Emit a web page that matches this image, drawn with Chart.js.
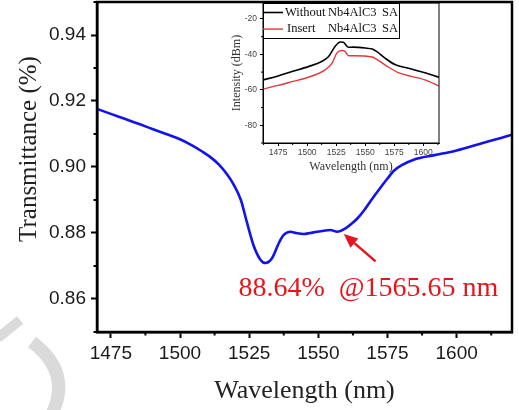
<!DOCTYPE html>
<html>
<head>
<meta charset="utf-8">
<script src="https://cdn.jsdelivr.net/npm/chart.js@4.4.1/dist/chart.umd.min.js"></script>
<style>
  body { margin: 0; background: #fff; }
  #wrap { position: relative; width: 519px; height: 410px; }
  #mainChart { position: absolute; left: 0; top: 0; }
  #insetChart { position: absolute; left: 225px; top: 0; }
</style>
</head>
<body>
<div id="wrap">
  <canvas id="mainChart" width="519" height="410"></canvas>
  <canvas id="insetChart" width="225" height="178"></canvas>
</div>
<script>
// main curve: transmittance vs wavelength
var wavelength = [1470, 1475, 1480, 1485, 1490, 1495, 1500, 1504, 1508, 1511, 1514, 1517, 1519.5, 1522,
  1524.2, 1526.6, 1529, 1530.9, 1533.3, 1535.7, 1537.5, 1539.9, 1542, 1544.7, 1547, 1549.6, 1552,
  1554.4, 1556.8, 1559.8, 1562, 1564.1, 1566.5, 1568.9, 1572.5, 1575, 1577.2, 1580, 1584.5, 1592,
  1599, 1606.3, 1611.3, 1616, 1620];
var transmittance = [0.9176, 0.9161, 0.9146, 0.9131, 0.9115, 0.9100, 0.9084, 0.9067, 0.9047, 0.9030,
  0.9008, 0.8978, 0.8945, 0.8900, 0.8832, 0.8762, 0.8720, 0.8709, 0.8724, 0.8769, 0.8794, 0.8804,
  0.8800, 0.8797, 0.8800, 0.8804, 0.8807, 0.8809, 0.8804, 0.8814, 0.8828, 0.8844, 0.8868, 0.8897,
  0.8938, 0.8965, 0.8988, 0.9005, 0.9022, 0.9036, 0.9048, 0.9065, 0.9077, 0.9088, 0.9098];
var xTicks = [1475, 1500, 1525, 1550, 1575, 1600];
var yTicks = [0.86, 0.88, 0.90, 0.92, 0.94];

// inset spectra
var wlWithout = [1462, 1475, 1487, 1501, 1512.5, 1518.5, 1524, 1528.5, 1531, 1535.5, 1540, 1550,
  1556, 1560, 1567, 1576, 1587, 1601.5, 1613.5];
var dBmWithout = [-54.4, -52.2, -49.7, -46.9, -44.0, -41.2, -35.5, -33.0, -33.1, -36.0, -35.9, -36.4,
  -37.0, -38.4, -42.1, -45.9, -47.8, -50.3, -52.9];
var wlInsert = [1462, 1475, 1487, 1501, 1515.5, 1521.5, 1525.5, 1530, 1532, 1536, 1540, 1556,
  1560, 1567, 1578.5, 1601.5, 1613.5];
var dBmInsert = [-59.6, -57.5, -55.4, -52.9, -48.7, -44.9, -39.3, -37.8, -38.0, -40.8, -40.8, -41.5,
  -42.8, -45.9, -50.3, -54.4, -57.8];
var insetXTicks = [1475, 1500, 1525, 1550, 1575, 1600];
var insetYTicks = [-80, -60, -40, -20];
var seriesNames = ['Without  Nb4AlC3  SA', 'Insert  Nb4AlC3  SA'];

// annotation
var noteText = '88.64%  @1565.65 nm';
var noteAt = [1521.1, 0.8608];
var arrowFrom = [1570.7, 0.8714];
var arrowTo = [1559.2, 0.8797];

var SERIF = '"Liberation Serif", "Times New Roman", serif';
var SANS = '"Liberation Sans", Arial, sans-serif';

function toPoints(xs, ys) {
  return xs.map(function (x, i) { return {x: x, y: ys[i]}; });
}
function plain(v) { return String(v); }
function noPad(s) { s.paddingLeft = 0; s.paddingRight = 0; s.paddingTop = 0; s.paddingBottom = 0; }

// box around plot area
var framePlugin = {
  id: 'frame',
  afterDraw: function (chart, args, opts) {
    var a = chart.chartArea, ctx = chart.ctx;
    ctx.save();
    ctx.strokeStyle = '#000';
    ctx.lineWidth = opts.width;
    ctx.strokeRect(a.left, a.top, a.right - a.left, a.bottom - a.top);
    ctx.restore();
  }
};

// small ticks halfway between the labelled ones
var minorTickPlugin = {
  id: 'minorTicks',
  afterDraw: function (chart, args, opts) {
    var ctx = chart.ctx;
    ctx.save();
    ctx.strokeStyle = '#000';
    ctx.lineWidth = opts.width;
    ['x', 'y'].forEach(function (id) {
      var s = chart.scales[id];
      var vals = s.ticks.map(function (t) { return t.value; });
      var step = vals[1] - vals[0];
      var mids = [vals[0] - step / 2];
      vals.forEach(function (v) { mids.push(v + step / 2); });
      mids.forEach(function (m) {
        if (m < s.min - 1e-9 || m > s.max + 1e-9) return;
        var p = s.getPixelForValue(m);
        ctx.beginPath();
        if (id === 'x') { ctx.moveTo(p, s.top); ctx.lineTo(p, s.top + opts.len); }
        else { ctx.moveTo(s.right, p); ctx.lineTo(s.right - opts.len, p); }
        ctx.stroke();
      });
    });
    ctx.restore();
  }
};

var mainExtras = {
  id: 'mainExtras',
  beforeDraw: function (chart) {
    // faint watermark strokes bottom-left
    var ctx = chart.ctx;
    ctx.save();
    ctx.strokeStyle = '#dadada';
    ctx.lineCap = 'butt';
    ctx.lineWidth = 10;
    ctx.beginPath(); ctx.moveTo(-2, 338); ctx.lineTo(20, 320); ctx.stroke();
    ctx.lineWidth = 13;
    ctx.beginPath(); ctx.moveTo(32, 342); ctx.quadraticCurveTo(72, 372, 52, 414); ctx.stroke();
    ctx.restore();
  },
  afterDraw: function (chart) {
    var ctx = chart.ctx, x = chart.scales.x, y = chart.scales.y;
    ctx.save();
    // y axis title
    ctx.fillStyle = '#222';
    ctx.font = '25px ' + SERIF;
    ctx.textAlign = 'center';
    ctx.textBaseline = 'middle';
    ctx.translate(29, 149);
    ctx.rotate(-Math.PI / 2);
    ctx.fillText('Transmittance (%)', 0, 0);
    ctx.restore();

    ctx.save();
    ctx.fillStyle = '#e8141c';
    ctx.strokeStyle = '#e8141c';
    ctx.font = '28px ' + SERIF;
    ctx.textAlign = 'left';
    ctx.textBaseline = 'alphabetic';
    ctx.fillText(noteText, x.getPixelForValue(noteAt[0]), y.getPixelForValue(noteAt[1]));
    var x0 = x.getPixelForValue(arrowFrom[0]), y0 = y.getPixelForValue(arrowFrom[1]);
    var x1 = x.getPixelForValue(arrowTo[0]), y1 = y.getPixelForValue(arrowTo[1]);
    var ang = Math.atan2(y1 - y0, x1 - x0), head = 14, half = 6;
    var bx = x1 - head * Math.cos(ang), by = y1 - head * Math.sin(ang);
    ctx.lineWidth = 2.5;
    ctx.beginPath(); ctx.moveTo(x0, y0); ctx.lineTo(bx, by); ctx.stroke();
    ctx.beginPath();
    ctx.moveTo(x1, y1);
    ctx.lineTo(bx + half * Math.sin(ang), by - half * Math.cos(ang));
    ctx.lineTo(bx - half * Math.sin(ang), by + half * Math.cos(ang));
    ctx.closePath();
    ctx.fill();
    ctx.restore();
  }
};

var insetLegend = {
  id: 'insetLegend',
  afterDraw: function (chart) {
    var ctx = chart.ctx, a = chart.chartArea;
    var L = a.left, T = a.top, W = 136, H = 35;
    var cols = [L + 22, L + 65, L + 119];
    ctx.save();
    ctx.fillStyle = '#fff';
    ctx.fillRect(L, T, W, H);
    ctx.strokeStyle = '#000';
    ctx.lineWidth = 1;
    ctx.strokeRect(L + 0.5, T + 0.5, W, H);
    ctx.font = '12.5px ' + SERIF;
    ctx.textBaseline = 'middle';
    chart.data.datasets.forEach(function (ds, i) {
      var ry = T + 9.5 + i * 16.6;
      ctx.strokeStyle = ds.borderColor;
      ctx.lineWidth = ds.borderWidth;
      ctx.beginPath(); ctx.moveTo(L, ry); ctx.lineTo(L + 20, ry); ctx.stroke();
      ctx.fillStyle = '#111';
      ds.label.split(/\s+/).forEach(function (w, j) {
        ctx.fillText(w, cols[j] + (j === 0 && i === 1 ? 2 : 0), ry);
      });
    });
    ctx.restore();
  }
};

new Chart(document.getElementById('mainChart').getContext('2d'), {
  type: 'line',
  data: {
    datasets: [{
      label: 'Transmittance',
      data: toPoints(wavelength, transmittance),
      borderColor: '#1212ec',
      borderWidth: 2.6,
      pointRadius: 0,
      cubicInterpolationMode: 'monotone',
      fill: false
    }]
  },
  options: {
    responsive: false,
    animation: false,
    layout: { padding: { top: 2, right: 7, left: 0, bottom: 0 } },
    plugins: {
      legend: { display: false },
      tooltip: { enabled: false },
      frame: { width: 2.5 },
      minorTicks: { len: 3.5, width: 2 }
    },
    scales: {
      x: {
        type: 'linear', min: 1470, max: 1620,
        afterBuildTicks: function (s) { s.ticks = xTicks.map(function (v) { return {value: v}; }); },
        afterFit: function (s) { s.height = 78; noPad(s); },
        ticks: { font: { family: SANS, size: 19 }, color: '#1a1a1a', padding: 4, maxRotation: 0, callback: plain },
        grid: { drawOnChartArea: false, tickLength: 6, tickWidth: 2, tickColor: '#000' },
        border: { color: '#000', width: 2.5 },
        title: { display: true, text: 'Wavelength (nm)', font: { family: SERIF, size: 26 }, color: '#222', padding: { top: 0, bottom: 3 } }
      },
      y: {
        type: 'linear', min: 0.85, max: 0.95,
        afterBuildTicks: function (s) { s.ticks = yTicks.map(function (v) { return {value: v}; }); },
        afterFit: function (s) { s.width = 97; noPad(s); },
        ticks: { font: { family: SANS, size: 19 }, color: '#1a1a1a', padding: 5,
          callback: function (v) { return v.toFixed(2); } },
        grid: { drawOnChartArea: false, tickLength: 6, tickWidth: 2, tickColor: '#000' },
        border: { color: '#000', width: 2.5 }
      }
    }
  },
  plugins: [mainExtras, framePlugin, minorTickPlugin]
});

new Chart(document.getElementById('insetChart').getContext('2d'), {
  type: 'line',
  data: {
    datasets: [{
      label: seriesNames[0],
      data: toPoints(wlWithout, dBmWithout),
      borderColor: '#000',
      borderWidth: 1.6,
      pointRadius: 0,
      cubicInterpolationMode: 'monotone'
    }, {
      label: seriesNames[1],
      data: toPoints(wlInsert, dBmInsert),
      borderColor: '#e0383c',
      borderWidth: 1.4,
      pointRadius: 0,
      cubicInterpolationMode: 'monotone'
    }]
  },
  options: {
    responsive: false,
    animation: false,
    layout: { padding: { top: 3, right: 11, left: 0, bottom: 0 } },
    plugins: {
      legend: { display: false },
      tooltip: { enabled: false },
      frame: { width: 1 },
      minorTicks: { len: 2, width: 1 }
    },
    scales: {
      x: {
        type: 'linear', min: 1462, max: 1613.5,
        afterBuildTicks: function (s) { s.ticks = insetXTicks.map(function (v) { return {value: v}; }); },
        afterFit: function (s) { s.height = 35; noPad(s); },
        ticks: { font: { family: SANS, size: 8.5 }, color: '#444', padding: 1.5, maxRotation: 0, callback: plain },
        grid: { drawOnChartArea: false, tickLength: 3, tickWidth: 1, tickColor: '#000' },
        border: { color: '#000', width: 1 },
        title: { display: true, text: 'Wavelength (nm)', font: { family: SERIF, size: 12 }, color: '#333', padding: { top: 0, bottom: 4 } }
      },
      y: {
        type: 'linear', min: -90, max: -11,
        afterBuildTicks: function (s) { s.ticks = insetYTicks.map(function (v) { return {value: v}; }); },
        afterFit: function (s) { s.width = 38; noPad(s); },
        ticks: { font: { family: SANS, size: 8.5 }, color: '#444', padding: 3, callback: plain },
        grid: { drawOnChartArea: false, tickLength: 3, tickWidth: 1, tickColor: '#000' },
        border: { color: '#000', width: 1 },
        title: { display: true, text: 'Intensity (dBm)', font: { family: SERIF, size: 12 }, color: '#333', padding: { top: 5, bottom: 0 } }
      }
    }
  },
  plugins: [framePlugin, minorTickPlugin, insetLegend]
});
</script>
</body>
</html>
